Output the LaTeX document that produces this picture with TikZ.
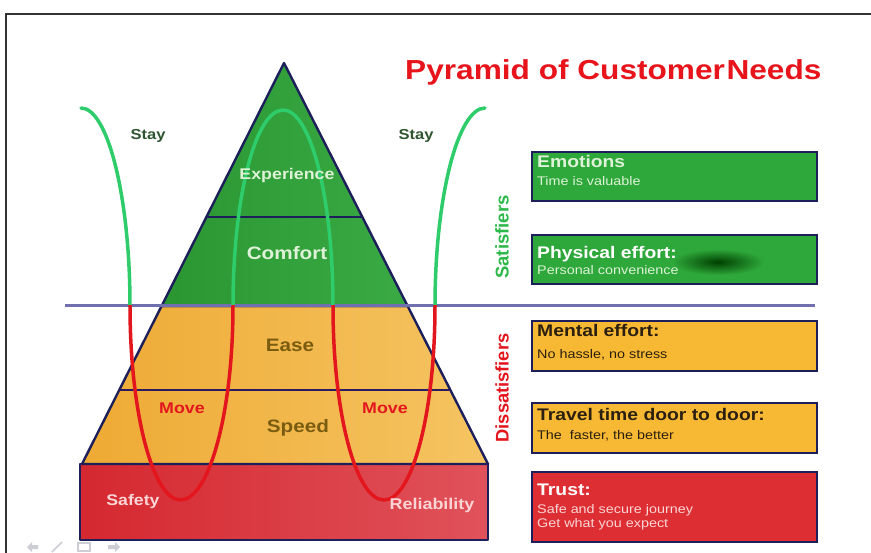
\documentclass[tikz,border=0pt]{standalone}
\usepackage{fontspec}
\setmainfont[FakeStretch=1.15]{Liberation Sans}
\newfontfamily\uprightsans{Liberation Sans}
\newcommand\fsz[1]{\fontsize{#1}{#1}\selectfont}

\definecolor{navy}{HTML}{1C1F5A}
\definecolor{divider}{HTML}{7070B0}
\definecolor{pyrgreenL}{HTML}{2A9632}
\definecolor{pyrgreenR}{HTML}{3AAA44}
\definecolor{pyrorangeL}{HTML}{EEAA34}
\definecolor{pyrorangeR}{HTML}{F5C462}
\definecolor{pyrredL}{HTML}{D52830}
\definecolor{pyrredR}{HTML}{E0525A}
\definecolor{boxgreen}{HTML}{2EA83A}
\definecolor{boxorange}{HTML}{F7B834}
\definecolor{boxred}{HTML}{DC2E33}
\definecolor{wavegreen}{HTML}{2ECC6A}
\definecolor{wavered}{HTML}{E3161E}
\definecolor{titlered}{HTML}{E8141C}
\definecolor{staygreen}{HTML}{2F5530}
\definecolor{satgreen}{HTML}{2DB84A}
\definecolor{palegreen}{HTML}{DDF2D6}
\definecolor{olive}{HTML}{7A5C10}
\definecolor{palepink}{HTML}{FBD5D5}
\definecolor{darkbrown}{HTML}{2B2010}
\definecolor{faint}{HTML}{CDCDD6}

\begin{document}
\begin{tikzpicture}[x=1pt,y=-1pt,
  outline/.style={draw=navy,line width=2.4pt,line join=round},
  wave/.style={line width=3.5pt,line cap=round},
  lbl/.style={inner sep=0pt,font=\bfseries},
  boxed/.style={draw=navy,line width=2pt},
  head/.style={inner sep=0pt,anchor=base west,font=\fsz{16.8}\bfseries},
  sub/.style={inner sep=0pt,anchor=base west,font=\fsz{12.5}}]

\useasboundingbox (0,0) rectangle (871,553);
\fill[white] (0,0) rectangle (871,553);

% slide frame
\draw[black!80,line width=2.6pt] (6,553) -- (6,14) -- (871,14);

% pyramid: red base, orange middle, green top
\shade[left color=pyrredL,right color=pyrredR] (80,464) rectangle (488,540);
\draw[outline] (80,464) rectangle (488,540);
\shade[left color=pyrorangeL,right color=pyrorangeR]
  (161.6,306) -- (407.6,306) -- (488,464) -- (82,464) -- cycle;
\draw[outline] (161.6,306) -- (407.6,306) -- (488,464) -- (82,464) -- cycle;
\shade[left color=pyrgreenL,right color=pyrgreenR]
  (284,63) -- (407.6,306) -- (161.6,306) -- cycle;
\draw[outline] (284,63) -- (407.6,306) -- (161.6,306) -- cycle;
\draw[outline] (206.4,217) -- (362.3,217);
\draw[outline,draw=navy!85!violet] (119.3,390) -- (450.4,390);

% satisfier / dissatisfier divider
\draw[divider,line width=3pt] (65,306) -- (815,306);

% stay / move wave: green above the divider, red below
\def\wavepath{(81,108) .. controls (108,108) and (130,197.7) .. (130,306)
  .. controls (130,413.1) and (153.1,500) .. (180.5,500)
  .. controls (208.9,500) and (233,413.1) .. (233,306)
  .. controls (233,197.7) and (255.4,110) .. (283,110)
  .. controls (310.6,110) and (333,197.7) .. (333,306)
  .. controls (333,413.1) and (355.8,500) .. (384,500)
  .. controls (412.2,500) and (435,413.1) .. (435,306)
  .. controls (435,197.7) and (457.8,108) .. (485,108)}
\begin{scope}
  \clip (0,0) rectangle (871,306);
  \draw[wave,wavegreen] \wavepath;
\end{scope}
\begin{scope}
  \clip (0,306) rectangle (871,553);
  \draw[wave,wavered] \wavepath;
\end{scope}

% title
\node[inner sep=0pt,anchor=base west,text=titlered,font=\fsz{27.5}\bfseries]
  (title) at (405,80) {Pyramid of Customer\hspace{1.5pt}Needs};

% pyramid labels
\node[lbl,text=staygreen,font=\fsz{14.4}\bfseries] (stayL) at (148,136) {Stay};
\node[lbl,text=staygreen,font=\fsz{14.4}\bfseries] (stayR) at (416,136) {Stay};
\node[lbl,text=palegreen,font=\fsz{15.5}\bfseries] (experience) at (287,175) {Experience};
\node[lbl,text=palegreen,font=\fsz{18}\bfseries] (comfort) at (287,253) {Comfort};
\node[lbl,text=olive,font=\fsz{18}\bfseries] (ease) at (290,345) {Ease};
\node[lbl,text=olive,font=\fsz{18}\bfseries] (speed) at (298,428) {Speed};
\node[lbl,text=wavered,font=\fsz{15.5}\bfseries] (moveL) at (182,408) {Move};
\node[lbl,text=wavered,font=\fsz{15.5}\bfseries] (moveR) at (385,408) {Move};
\node[lbl,text=palepink,font=\fsz{15.4}\bfseries] (safety) at (133,502) {Safety};
\node[lbl,text=palepink,font=\fsz{15.6}\bfseries] (reliability) at (432,505) {Reliability};

% side captions
\node[lbl,rotate=90,text=satgreen,font=\uprightsans\fsz{18.5}\bfseries]
  (satisfiers) at (502,237) {Satisfiers};
\node[lbl,rotate=90,text=wavered,font=\uprightsans\fsz{18.3}\bfseries]
  (dissatisfiers) at (502,388) {Dissatisfiers};

% need boxes
\draw[boxed,fill=boxgreen] (532,152) rectangle (817,201);
\node[head,text=palegreen] (emo) at (537,168) {Emotions};
\node[sub,text=palegreen] (emosub) at (537,186) {Time is valuable};

\draw[boxed,fill=boxgreen] (532,235) rectangle (817,284);
\shade[inner color=green!25!black,outer color=boxgreen]
  (718,262) ellipse [x radius=46, y radius=13];
\node[head,text=white] (phys) at (537,259) {Physical effort:};
\node[sub,text=palegreen] (physsub) at (537,275) {Personal convenience};

\draw[boxed,fill=boxorange] (532,321) rectangle (817,371);
\node[head,text=darkbrown] (mental) at (537,337) {Mental effort:};
\node[sub,text=darkbrown] (mentalsub) at (537,359) {No hassle, no stress};

\draw[boxed,fill=boxorange] (532,403) rectangle (817,453);
\node[head,text=darkbrown] (travel) at (537,421) {Travel time door to door:};
\node[sub,text=darkbrown] (travelsub) at (537,440) {The\ \ faster, the better};

\draw[boxed,fill=boxred] (532,472) rectangle (817,542);
\node[head,text=white] (trust) at (537,495) {Trust:};
\node[sub,text=palepink] (trustsubA) at (537,513) {Safe and secure journey};
\node[sub,text=palepink] (trustsubB) at (537,527) {Get what you expect};

% slide navigation icons
\fill[faint] (27,547) -- (32,542) -- (32,545) -- (38,545) -- (38,549) -- (32,549) -- (32,552) -- cycle;
\draw[faint,line width=1.5pt] (52,552) -- (62,542);
\draw[faint,line width=1.5pt] (78,543) rectangle (90,551);
\fill[faint] (120,547) -- (115,542) -- (115,545) -- (108,545) -- (108,549) -- (115,549) -- (115,552) -- cycle;
\end{tikzpicture}
\end{document}
